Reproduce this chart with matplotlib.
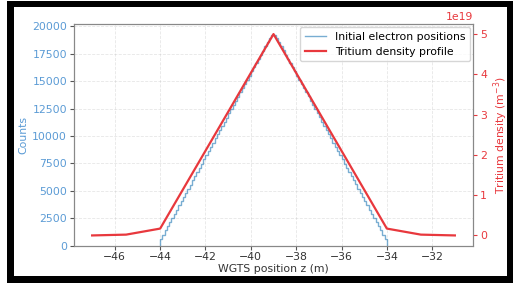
import numpy as np
import matplotlib
matplotlib.use("Agg")
import matplotlib.pyplot as plt
from matplotlib.patches import Rectangle

# Histogram of initial electron positions (bin width 0.1 m, from -44 to -34)
bin_start = -44.0
bin_width = 0.1
counts_rising = [600, 980, 1370, 1740, 2130, 2510, 2900, 3270, 3660, 4040,
                 4420, 4800, 5190, 5560, 5950, 6330, 6710, 7100, 7470, 7860,
                 8240, 8620, 9000, 9390, 9770, 10150, 10530, 10920, 11300, 11680,
                 12060, 12450, 12820, 13210, 13590, 13970, 14360, 14730, 15120, 15500,
                 15880, 16270, 16640, 17030, 17410, 17790, 18170, 18560, 18940, 19250]
counts_falling = [19230, 18900, 18540, 18180, 17800, 17400, 17040, 16650, 16280, 15890,
                  15510, 15130, 14740, 14370, 13980, 13600, 13220, 12830, 12460, 12070,
                  11690, 11300, 10930, 10540, 10160, 9780, 9390, 9010, 8640, 8250,
                  7870, 7480, 7110, 6720, 6340, 5960, 5580, 5190, 4810, 4430,
                  4050, 3660, 3280, 2900, 2520, 2140, 1750, 1370, 990, 610]
counts = counts_rising + counts_falling

# Tritium density profile
z_density = [-47.0, -45.5, -44.0, -39.0, -34.0, -32.5, -31.0]
density = [0.0, 0.02e19, 0.17e19, 5.0e19, 0.17e19, 0.02e19, 0.0]

edges = bin_start + bin_width * np.arange(len(counts) + 1)
centers = 0.5 * (edges[:-1] + edges[1:])

blue = '#1f77b4'
red = '#e8383d'
fs = 7.8

fig = plt.figure(figsize=(5.13, 2.83), dpi=100)
fig.patch.set_facecolor('white')
W, H = 513.0, 283.0
fig.add_artist(Rectangle((7 / W, 0), 1 - 7 / W, 1 - 1 / H, transform=fig.transFigure,
                         facecolor='black', edgecolor='none', zorder=-10))
fig.add_artist(Rectangle((14 / W, 7 / H), (507 - 14) / W, (276 - 7) / H,
                         transform=fig.transFigure, facecolor='white',
                         edgecolor='none', zorder=-9))

ax = fig.add_axes([74 / W, 1 - 245.5 / H, (473 - 74) / W, (245.5 - 24) / H])
ax.set_zorder(1)
ax.hist(centers, bins=edges, weights=counts, histtype='step', color=blue,
        alpha=0.6, lw=1.0, label='Initial electron positions')
ax.set_xlabel('WGTS position z (m)', fontsize=fs, color='#333333', labelpad=1)
ax.set_ylabel('Counts', fontsize=fs, color='#5b9bd5', labelpad=3)
ax.tick_params(axis='y', labelcolor='#5b9bd5', labelsize=fs, color='#555555',
               length=3, pad=2)
ax.tick_params(axis='x', labelsize=fs, labelcolor='#333333', color='#555555',
               length=3, pad=2)
ax.grid(True, linestyle='--', alpha=0.3, lw=0.6)
ax.set_xticks([-46, -44, -42, -40, -38, -36, -34, -32])
ax.set_yticks([0, 2500, 5000, 7500, 10000, 12500, 15000, 17500, 20000])

ax2 = ax.twinx()
ax2.plot(z_density, density, color=red, lw=1.6, label='Tritium density profile')
ax2.set_ylabel('Tritium density (m$^{-3}$)', fontsize=fs, color=red, labelpad=3)
ax2.tick_params(axis='y', labelcolor=red, labelsize=fs, color=red, length=3, pad=2)
ax2.yaxis.get_offset_text().set_color(red)
ax2.yaxis.get_offset_text().set_fontsize(fs)

for a in (ax, ax2):
    for s in a.spines.values():
        s.set_color('#888888')

ax.set_xlim(-47.8, -30.2)

lines = [plt.Line2D([], [], color=blue, alpha=0.6, lw=1.0),
         plt.Line2D([], [], color=red, lw=1.6)]
ax2.legend(lines, ['Initial electron positions', 'Tritium density profile'],
           loc='upper right', fontsize=fs, framealpha=0.8, borderaxespad=0.3,
           handlelength=2.0)

fig.savefig('out.png', dpi=100, facecolor=fig.get_facecolor())
